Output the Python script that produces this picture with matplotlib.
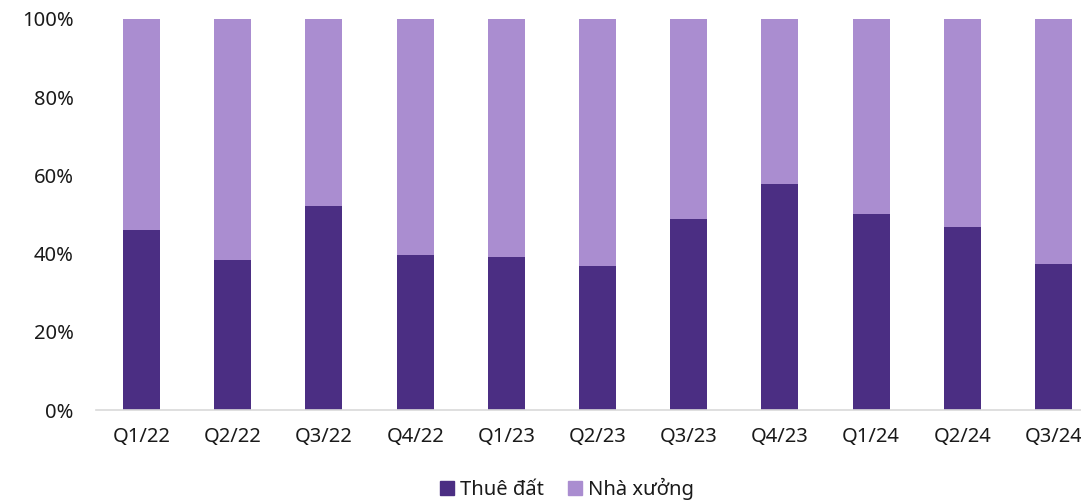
import numpy as np
import matplotlib
matplotlib.use('Agg')
import matplotlib.pyplot as plt
import matplotlib.patches as mpatches

# ── DATA ─────────────────────────────────────
quarters = ["Q1/22", "Q2/22", "Q3/22", "Q4/22", "Q1/23", "Q2/23",
            "Q3/23", "Q4/23", "Q1/24", "Q2/24", "Q3/24"]
thue_dat = [46.0, 38.4, 52.2, 39.6, 39.1, 36.8, 48.8, 57.8, 50.1, 46.8, 37.3]
nha_xuong = [100 - v for v in thue_dat]

DARK = "#4b2e83"
LIGHT = "#aa8dd0"

plt.rcParams['font.family'] = ['Noto Sans', 'DejaVu Sans']

fig = plt.figure(figsize=(10.81, 5.0), dpi=100)
fig.patch.set_facecolor('white')
# plot runs off the right edge like the original
ax = fig.add_axes([96 / 1081, 90 / 500, 1003 / 1081, 391 / 500])

x = np.arange(len(quarters))
ax.bar(x, thue_dat, 0.405, color=DARK, label='Thuê đất')
ax.bar(x, nha_xuong, 0.405, bottom=thue_dat, color=LIGHT, label='Nhà xưởng')

ax.set_xlim(-0.5, len(quarters) - 0.5)
ax.set_ylim(0, 100)
ax.set_yticks(range(0, 101, 20))
ax.set_yticklabels([f"{v}%" for v in range(0, 101, 20)], fontsize=14.5, color='#1a1a1a')
ax.set_xticks(x)
ax.set_xticklabels(quarters, fontsize=14.5, color='#1a1a1a')
ax.tick_params(length=0)
ax.tick_params(axis='y', pad=16)
ax.tick_params(axis='x', pad=12)

for name, spine in ax.spines.items():
    spine.set_visible(name == 'bottom')
ax.spines['bottom'].set_color('#d9d9d9')
ax.spines['bottom'].set_linewidth(1.2)

handles = [mpatches.Patch(color=DARK, label='Thuê đất'),
           mpatches.Patch(color=LIGHT, label='Nhà xưởng')]
fig.legend(handles=handles, loc='center', bbox_to_anchor=(567 / 1081, 1 - 489 / 500),
           ncol=2, fontsize=14.5, frameon=False, handlelength=0.7, handleheight=0.7,
           handletextpad=0.3, columnspacing=1.2, labelcolor='#1a1a1a')

fig.savefig('out.png', dpi=100, facecolor='white')
